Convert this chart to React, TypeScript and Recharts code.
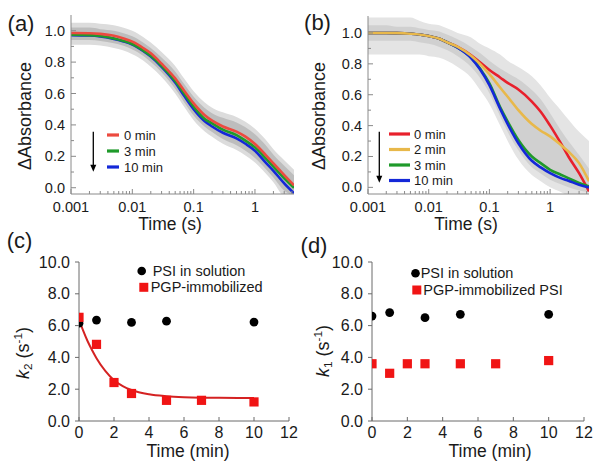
import React from 'react';
import { ComposedChart, Line, Area, Scatter, XAxis, YAxis, Legend } from 'recharts';

const W = 593;
const H = 471;
const FONT = '"Liberation Sans", Arial, Helvetica, sans-serif';
const FRAME_AB = '#8a8a8a';
const FRAME_CD = '#6a6a6a';
const TEXT = '#1a1a1a';

// ---------- panel (a) ----------
const timeA = [0.001, 0.002, 0.003, 0.005, 0.007, 0.01, 0.015, 0.02, 0.03, 0.05, 0.07, 0.1, 0.15, 0.2, 0.3, 0.5, 0.7, 1, 1.5, 2, 3, 4.33];
const absA0 = [0.985, 0.984, 0.98, 0.968, 0.952, 0.93, 0.89, 0.856, 0.79, 0.696, 0.618, 0.537, 0.463, 0.427, 0.39, 0.357, 0.325, 0.278, 0.208, 0.155, 0.08, 0.015];
const absA3 = [0.975, 0.972, 0.966, 0.951, 0.936, 0.915, 0.875, 0.84, 0.777, 0.68, 0.6, 0.516, 0.44, 0.41, 0.37, 0.335, 0.3, 0.257, 0.187, 0.134, 0.06, 0.0];
const absA10 = [0.972, 0.969, 0.963, 0.948, 0.933, 0.912, 0.871, 0.835, 0.77, 0.67, 0.585, 0.5, 0.425, 0.39, 0.35, 0.314, 0.28, 0.236, 0.16, 0.108, 0.028, -0.035];
const noiseHiA = [1.02, 1.02, 1.01, 1.0, 0.985, 0.965, 0.925, 0.89, 0.83, 0.74, 0.66, 0.58, 0.51, 0.475, 0.445, 0.415, 0.385, 0.34, 0.27, 0.21, 0.14, 0.08];
const noiseLoA = [0.94, 0.94, 0.935, 0.92, 0.905, 0.88, 0.84, 0.8, 0.735, 0.63, 0.545, 0.46, 0.39, 0.355, 0.31, 0.27, 0.235, 0.19, 0.12, 0.065, -0.02, -0.05];
const spikeHiA = [1.05, 1.05, 1.045, 1.035, 1.02, 1.0, 0.96, 0.925, 0.865, 0.775, 0.695, 0.615, 0.545, 0.51, 0.48, 0.45, 0.42, 0.375, 0.305, 0.245, 0.175, 0.115];
const spikeLoA = [0.91, 0.91, 0.905, 0.89, 0.875, 0.85, 0.81, 0.77, 0.705, 0.6, 0.515, 0.43, 0.36, 0.325, 0.28, 0.24, 0.205, 0.16, 0.09, 0.035, -0.05, -0.05];

// ---------- panel (b) ----------
const timeB = [0.001, 0.002, 0.003, 0.005, 0.007, 0.01, 0.015, 0.02, 0.03, 0.05, 0.07, 0.1, 0.15, 0.2, 0.3, 0.5, 0.7, 1, 1.5, 2, 3, 4.37];
const absB0 = [1.0, 1.0, 0.999, 0.995, 0.99, 0.98, 0.963, 0.94, 0.91, 0.856, 0.81, 0.76, 0.712, 0.677, 0.634, 0.556, 0.49, 0.4, 0.286, 0.2, 0.092, -0.026];
const absB2 = [1.0, 1.0, 0.999, 0.995, 0.99, 0.98, 0.963, 0.94, 0.91, 0.853, 0.8, 0.733, 0.647, 0.587, 0.5, 0.41, 0.367, 0.33, 0.275, 0.232, 0.157, 0.04];
const absB3 = [1.0, 1.0, 0.999, 0.995, 0.99, 0.98, 0.963, 0.94, 0.905, 0.84, 0.77, 0.673, 0.52, 0.426, 0.307, 0.2, 0.157, 0.114, 0.082, 0.06, 0.028, 0.006];
const absB10 = [1.0, 1.0, 0.999, 0.995, 0.99, 0.98, 0.963, 0.94, 0.905, 0.838, 0.765, 0.662, 0.51, 0.41, 0.286, 0.172, 0.129, 0.092, 0.06, 0.043, 0.017, 0.0];
const noiseHiB = [1.1, 1.1, 1.1, 1.1, 1.08, 1.06, 1.05, 1.03, 1.0, 0.97, 0.93, 0.9, 0.86, 0.82, 0.78, 0.72, 0.66, 0.58, 0.5, 0.44, 0.36, 0.3];
const noiseLoB = [0.86, 0.86, 0.86, 0.86, 0.86, 0.85, 0.84, 0.82, 0.78, 0.71, 0.63, 0.54, 0.4, 0.3, 0.18, 0.08, 0.04, 0.0, -0.03, -0.05, -0.05, -0.05];
const coreHiB = [1.05, 1.05, 1.04, 1.04, 1.03, 1.02, 1.01, 0.99, 0.96, 0.91, 0.87, 0.82, 0.77, 0.74, 0.7, 0.63, 0.57, 0.48, 0.37, 0.3, 0.21, 0.12];
const coreLoB = [0.95, 0.95, 0.95, 0.95, 0.94, 0.93, 0.91, 0.89, 0.85, 0.78, 0.71, 0.61, 0.46, 0.36, 0.24, 0.13, 0.09, 0.05, 0.02, 0.0, -0.02, -0.03];

// ---------- shared log axis ticks ----------
const logMajor = [0.001, 0.01, 0.1, 1];
const logTicks = [
  0.001, 0.002, 0.003, 0.004, 0.005, 0.006, 0.007, 0.008, 0.009,
  0.01, 0.02, 0.03, 0.04, 0.05, 0.06, 0.07, 0.08, 0.09,
  0.1, 0.2, 0.3, 0.4, 0.5, 0.6, 0.7, 0.8, 0.9,
  1, 2, 3, 4,
];
const absTicks = [0, 0.1, 0.2, 0.3, 0.4, 0.5, 0.6, 0.7, 0.8, 0.9, 1.0];
const absMajor = [0, 0.2, 0.4, 0.6, 0.8, 1.0];

// ---------- panel (c) ----------
const timeSolC = [0, 1, 3, 5, 10];
const kSolC = [6.15, 6.35, 6.2, 6.28, 6.22];
const timeImmC = [0, 1, 2, 3, 5, 7, 10];
const kImmC = [6.52, 4.82, 2.42, 1.73, 1.3, 1.3, 1.2];
const timeFitC = [0, 0.25, 0.5, 0.75, 1, 1.5, 2, 2.5, 3, 4, 5, 6, 7, 8, 10];
const kFitC = [6.4, 5.65, 5.0, 4.45, 3.95, 3.15, 2.57, 2.2, 1.95, 1.68, 1.56, 1.5, 1.47, 1.46, 1.45];

// ---------- panel (d) ----------
const timeSolD = [0, 1, 3, 5, 10];
const kSolD = [6.6, 6.82, 6.5, 6.71, 6.71];
const timeImmD = [0, 1, 2, 3, 5, 7, 10];
const kImmD = [3.6, 3.0, 3.6, 3.6, 3.6, 3.6, 3.8];

const minTicks = [0, 2, 4, 6, 8, 10, 12];
const kTicks = [0, 2, 4, 6, 8, 10];

// ---------- rows ----------
const rowsA = timeA.map((t, i) => ({
  t, m0: absA0[i], m3: absA3[i], m10: absA10[i],
  band: [noiseLoA[i], noiseHiA[i]], spike: [spikeLoA[i], spikeHiA[i]],
}));
const rowsB = timeB.map((t, i) => ({
  t, m0: absB0[i], m2: absB2[i], m3: absB3[i], m10: absB10[i],
  band: [noiseLoB[i], noiseHiB[i]], core: [coreLoB[i], coreHiB[i]],
}));
const solC = timeSolC.map((t, i) => ({ t, k: kSolC[i] }));
const immC = timeImmC.map((t, i) => ({ t, k: kImmC[i] }));
const fitC = timeFitC.map((t, i) => ({ t, k: kFitC[i] }));
const solD = timeSolD.map((t, i) => ({ t, k: kSolD[i] }));
const immD = timeImmD.map((t, i) => ({ t, k: kImmD[i] }));

const isIn = (arr: number[], v: number) => arr.some((m) => Math.abs(m - v) < 1e-9);

type TickOpts = { dir: number; majors: number[] | null; labels: boolean; fmt?: (v: number) => string; fontSize?: number; offset?: number; majorLen: number; minorLen: number; color: string };

function xTick(opts: TickOpts) {
  return (p: any) => {
    const v = p.payload.value;
    const major = opts.majors ? isIn(opts.majors, v) : true;
    const len = major ? opts.majorLen : opts.minorLen;
    return (
      <g>
        {len > 0 && <line x1={p.x} x2={p.x} y1={p.y} y2={p.y + opts.dir * len} stroke={opts.color} strokeWidth={1} />}
        {opts.labels && major && (
          <text x={p.x} y={p.y + (opts.offset || 0)} textAnchor="middle" dominantBaseline="central" fontSize={opts.fontSize} fontFamily={FONT} fill={TEXT}>
            {opts.fmt ? opts.fmt(v) : String(v)}
          </text>
        )}
      </g>
    );
  };
}

function yTick(opts: TickOpts) {
  return (p: any) => {
    const v = p.payload.value;
    const major = opts.majors ? isIn(opts.majors, v) : true;
    const len = major ? opts.majorLen : opts.minorLen;
    return (
      <g>
        {len > 0 && <line x1={p.x} x2={p.x + opts.dir * len} y1={p.y} y2={p.y} stroke={opts.color} strokeWidth={1} />}
        {opts.labels && major && (
          <text x={p.x - (opts.offset || 0)} y={p.y} textAnchor="end" dominantBaseline="central" fontSize={opts.fontSize} fontFamily={FONT} fill={TEXT}>
            {opts.fmt ? opts.fmt(v) : String(v)}
          </text>
        )}
      </g>
    );
  };
}

const fmt1 = (v: number) => v.toFixed(1);

const Title = ({ x, y, rotate = 0, size, children }: any) => (
  <div
    style={{
      position: 'absolute',
      left: x,
      top: y,
      transform: `translate(-50%, -50%) rotate(${rotate}deg)`,
      fontSize: size,
      fontFamily: FONT,
      whiteSpace: 'nowrap',
      color: TEXT,
      lineHeight: 1,
    }}
  >
    {children}
  </div>
);

const layer: React.CSSProperties = { position: 'absolute', left: 0, top: 0, width: W, height: H };

const legendProps = { layout: 'vertical' as const, verticalAlign: 'middle' as const, align: 'center' as const };

function ArrowLegend({ items, arrowX, arrowTop, arrowBottom, lineX1, lineX2, textX, rowYs, fontSize, w, h }: any) {
  return (
    <svg width={w} height={h} style={{ overflow: 'visible', display: 'block' }}>
      <line x1={arrowX} x2={arrowX} y1={arrowTop} y2={arrowBottom - 5} stroke="#000" strokeWidth={1.3} />
      <polygon points={`${arrowX - 3},${arrowBottom - 7} ${arrowX + 3},${arrowBottom - 7} ${arrowX},${arrowBottom}`} fill="#000" />
      {items.map((it: any, i: number) => (
        <g key={it.label}>
          <line x1={lineX1} x2={lineX2} y1={rowYs[i]} y2={rowYs[i]} stroke={it.color} strokeWidth={3.2} />
          <text x={textX} y={rowYs[i]} dominantBaseline="central" fontSize={fontSize} fontFamily={FONT} fill={TEXT}>
            {it.label}
          </text>
        </g>
      ))}
    </svg>
  );
}

function MarkerLegend({ circle, square, texts, fontSize, w, h }: any) {
  return (
    <svg width={w} height={h} style={{ overflow: 'visible', display: 'block' }}>
      <circle cx={circle[0]} cy={circle[1]} r={4.3} fill="#000" />
      <text x={texts[0][0]} y={texts[0][1]} dominantBaseline="central" fontSize={fontSize} fontFamily={FONT} fill={TEXT}>PSI in solution</text>
      <rect x={square[0] - 4.5} y={square[1] - 4.5} width={9} height={9} fill="#f01414" />
      <text x={texts[1][0]} y={texts[1][1]} dominantBaseline="central" fontSize={fontSize} fontFamily={FONT} fill={TEXT}>{texts[1][2]}</text>
    </svg>
  );
}

const circleShape = (p: any) => <circle cx={p.cx} cy={p.cy} r={4.4} fill="#000" />;
const squareShape = (p: any) => <rect x={p.cx - 4.6} y={p.cy - 4.6} width={9.2} height={9.2} fill="#f01414" />;

const colA = { m0: '#ec4a3f', m3: '#1f9a2a', m10: '#1428d8' };
const colB = { m0: '#e8202c', m2: '#e8b84a', m3: '#1f9a2a', m10: '#1428d8' };

function PanelA() {
  const domX: [number, number] = [0.001, 4.33];
  const domY: [number, number] = [-0.04, 1.1];
  return (
    <div style={layer}>
      <ComposedChart width={W} height={H} data={rowsA} margin={{ top: 15, left: 31, right: 299, bottom: 247 }}>
        <XAxis dataKey="t" type="number" scale="log" domain={domX} allowDataOverflow ticks={logTicks} interval={0} tickSize={0} tickMargin={0} height={30}
          axisLine={{ stroke: FRAME_AB }} tickLine={false}
          tick={xTick({ dir: -1, majors: logMajor, labels: true, fontSize: 14.5, offset: 13, majorLen: 5, minorLen: 3, color: FRAME_AB })} />
        <XAxis xAxisId="top" orientation="top" dataKey="t" type="number" scale="log" domain={domX} allowDataOverflow ticks={logTicks} interval={0} tickSize={0} tickMargin={0} height={0}
          axisLine={{ stroke: FRAME_AB }} tickLine={false}
          tick={xTick({ dir: 1, majors: logMajor, labels: false, majorLen: 5, minorLen: 3, color: FRAME_AB })} />
        <YAxis type="number" domain={domY} allowDataOverflow ticks={absTicks} interval={0} tickSize={0} tickMargin={0} width={40}
          axisLine={{ stroke: FRAME_AB }} tickLine={false}
          tick={yTick({ dir: 1, majors: absMajor, labels: true, fmt: fmt1, fontSize: 14.5, offset: 6, majorLen: 5, minorLen: 3, color: FRAME_AB })} />
        <YAxis yAxisId="right" orientation="right" type="number" domain={domY} allowDataOverflow ticks={absTicks} interval={0} tickSize={0} tickMargin={0} width={0}
          axisLine={{ stroke: FRAME_AB }} tickLine={false}
          tick={yTick({ dir: -1, majors: absMajor, labels: false, majorLen: 5, minorLen: 3, color: FRAME_AB })} />
        <Area dataKey="spike" type="monotone" stroke="none" fill="#dcdcdc" fillOpacity={1} isAnimationActive={false} />
        <Area dataKey="band" type="monotone" stroke="none" fill="#bdbdbd" fillOpacity={1} isAnimationActive={false} />
        <Line dataKey="m10" type="monotone" stroke={colA.m10} strokeWidth={2.6} dot={false} isAnimationActive={false} />
        <Line dataKey="m3" type="monotone" stroke={colA.m3} strokeWidth={2.6} dot={false} isAnimationActive={false} />
        <Line dataKey="m0" type="monotone" stroke={colA.m0} strokeWidth={2.6} dot={false} isAnimationActive={false} />
        <Legend {...legendProps} wrapperStyle={{ left: 86, top: 126, width: 100, height: 52 }}
          content={() => (
            <ArrowLegend w={100} h={52} arrowX={7.3} arrowTop={5.7} arrowBottom={45.7} lineX1={21} lineX2={33} textX={38} rowYs={[9, 25, 41]} fontSize={13}
              items={[{ label: '0 min', color: colA.m0 }, { label: '3 min', color: colA.m3 }, { label: '10 min', color: colA.m10 }]} />
          )} />
      </ComposedChart>
    </div>
  );
}

function PanelB() {
  const domX: [number, number] = [0.001, 4.37];
  const domY: [number, number] = [-0.043, 1.11];
  return (
    <div style={layer}>
      <ComposedChart width={W} height={H} data={rowsB} margin={{ top: 16, left: 328, right: 4, bottom: 247 }}>
        <XAxis dataKey="t" type="number" scale="log" domain={domX} allowDataOverflow ticks={logTicks} interval={0} tickSize={0} tickMargin={0} height={30}
          axisLine={{ stroke: FRAME_AB }} tickLine={false}
          tick={xTick({ dir: -1, majors: logMajor, labels: true, fontSize: 14.5, offset: 13, majorLen: 5, minorLen: 3, color: FRAME_AB })} />
        <XAxis xAxisId="top" orientation="top" dataKey="t" type="number" scale="log" domain={domX} allowDataOverflow ticks={logTicks} interval={0} tickSize={0} tickMargin={0} height={0}
          axisLine={{ stroke: FRAME_AB }} tickLine={false}
          tick={xTick({ dir: 1, majors: logMajor, labels: false, majorLen: 5, minorLen: 3, color: FRAME_AB })} />
        <YAxis type="number" domain={domY} allowDataOverflow ticks={absTicks} interval={0} tickSize={0} tickMargin={0} width={40}
          axisLine={{ stroke: FRAME_AB }} tickLine={false}
          tick={yTick({ dir: 1, majors: absMajor, labels: true, fmt: fmt1, fontSize: 14.5, offset: 6, majorLen: 5, minorLen: 3, color: FRAME_AB })} />
        <YAxis yAxisId="right" orientation="right" type="number" domain={domY} allowDataOverflow ticks={absTicks} interval={0} tickSize={0} tickMargin={0} width={0}
          axisLine={{ stroke: FRAME_AB }} tickLine={false}
          tick={yTick({ dir: -1, majors: absMajor, labels: false, majorLen: 5, minorLen: 3, color: FRAME_AB })} />
        <Area dataKey="band" type="monotone" stroke="none" fill="#e4e4e4" fillOpacity={1} isAnimationActive={false} />
        <Area dataKey="core" type="monotone" stroke="none" fill="#d0d0d0" fillOpacity={1} isAnimationActive={false} />
        <Line dataKey="m0" type="monotone" stroke={colB.m0} strokeWidth={2.6} dot={false} isAnimationActive={false} />
        <Line dataKey="m3" type="monotone" stroke={colB.m3} strokeWidth={2.6} dot={false} isAnimationActive={false} />
        <Line dataKey="m10" type="monotone" stroke={colB.m10} strokeWidth={2.6} dot={false} isAnimationActive={false} />
        <Line dataKey="m2" type="monotone" stroke={colB.m2} strokeWidth={2.6} dot={false} isAnimationActive={false} />
        <Legend {...legendProps} wrapperStyle={{ left: 372, top: 124, width: 110, height: 62 }}
          content={() => (
            <ArrowLegend w={110} h={62} arrowX={7.3} arrowTop={7.7} arrowBottom={58.7} lineX1={17} lineX2={38} textX={42} rowYs={[10, 25.5, 41, 56.5]} fontSize={13}
              items={[{ label: '0 min', color: colB.m0 }, { label: '2 min', color: colB.m2 }, { label: '3 min', color: colB.m3 }, { label: '10 min', color: colB.m10 }]} />
          )} />
      </ComposedChart>
    </div>
  );
}

function PanelK({ left, right, sol, imm, fit, legendPos, legend }: any) {
  const domX: [number, number] = [0, 12];
  const domY: [number, number] = [0, 10];
  return (
    <div style={layer}>
      <ComposedChart width={W} height={H} margin={{ top: 262, left: left - 40, right: W - right, bottom: 20 }}>
        <XAxis dataKey="t" type="number" domain={domX} allowDataOverflow ticks={minTicks} interval={0} tickSize={0} tickMargin={0} height={30}
          axisLine={{ stroke: FRAME_CD }} tickLine={false}
          tick={xTick({ dir: -1, majors: null, labels: true, fontSize: 16, offset: 11, majorLen: 4, minorLen: 4, color: FRAME_CD })} />
        <XAxis xAxisId="top" orientation="top" dataKey="t" type="number" domain={domX} allowDataOverflow height={0} tick={false} tickLine={false} axisLine={{ stroke: FRAME_CD }} />
        <YAxis type="number" domain={domY} allowDataOverflow ticks={kTicks} interval={0} tickSize={0} tickMargin={0} width={40}
          axisLine={{ stroke: FRAME_CD }} tickLine={false}
          tick={yTick({ dir: -1, majors: null, labels: true, fmt: fmt1, fontSize: 16, offset: 9, majorLen: 4, minorLen: 4, color: FRAME_CD })} />
        <YAxis yAxisId="right" orientation="right" type="number" domain={domY} allowDataOverflow width={0} tick={false} tickLine={false} axisLine={{ stroke: FRAME_CD }} />
        {fit && <Line data={fit} dataKey="k" type="monotone" stroke="#d42222" strokeWidth={2} dot={false} isAnimationActive={false} />}
        <Scatter data={sol} dataKey="k" shape={circleShape} isAnimationActive={false} />
        <Scatter data={imm} dataKey="k" shape={squareShape} isAnimationActive={false} />
        <Legend {...legendProps} wrapperStyle={{ left: legendPos[0], top: legendPos[1], width: 190, height: 40 }}
          content={() => <MarkerLegend w={190} h={40} fontSize={14.5} {...legend} />} />
      </ComposedChart>
    </div>
  );
}

export default function App() {
  return (
    <div style={{ position: 'absolute', left: 0, top: 0, width: W, height: H, background: '#fff', overflow: 'hidden' }}>
      <PanelA />
      <PanelB />
      <PanelK left={79} right={289} sol={solC} imm={immC} fit={fitC} legendPos={[130, 260]}
        legend={{ circle: [11.7, 11], square: [13.8, 27.3], texts: [[22.7, 11], [20.7, 27.3, 'PGP-immobilized']] }} />
      <PanelK left={372} right={584} sol={solD} imm={immD} fit={null} legendPos={[404, 262]}
        legend={{ circle: [11.5, 11.3], square: [12.8, 28], texts: [[16.7, 11.3], [19.3, 28, 'PGP-immobilized PSI']] }} />

      <Title x={21} y={24} size={22}>(a)</Title>
      <Title x={317.5} y={22.5} size={22}>(b)</Title>
      <Title x={19.5} y={241} size={22}>(c)</Title>
      <Title x={314} y={246} size={22}>(d)</Title>

      <Title x={25} y={116} rotate={-90} size={18}>ΔAbsorbance</Title>
      <Title x={319} y={116} rotate={-90} size={18}>ΔAbsorbance</Title>
      <Title x={170} y={225} size={17.5}>Time (s)</Title>
      <Title x={466} y={225} size={17.5}>Time (s)</Title>

      <Title x={23} y={353} rotate={-90} size={18}>
        <span style={{ fontStyle: 'italic' }}>k</span>
        <span style={{ fontSize: '0.65em', verticalAlign: '-0.25em' }}>2</span> (s<span style={{ fontSize: '0.65em', verticalAlign: '0.6em' }}>-1</span>)
      </Title>
      <Title x={323} y={351} rotate={-90} size={18}>
        <span style={{ fontStyle: 'italic' }}>k</span>
        <span style={{ fontSize: '0.65em', verticalAlign: '-0.25em' }}>1</span> (s<span style={{ fontSize: '0.65em', verticalAlign: '0.6em' }}>-1</span>)
      </Title>
      <Title x={188} y={452} size={17.5}>Time (min)</Title>
      <Title x={490} y={452} size={17.5}>Time (min)</Title>
    </div>
  );
}
